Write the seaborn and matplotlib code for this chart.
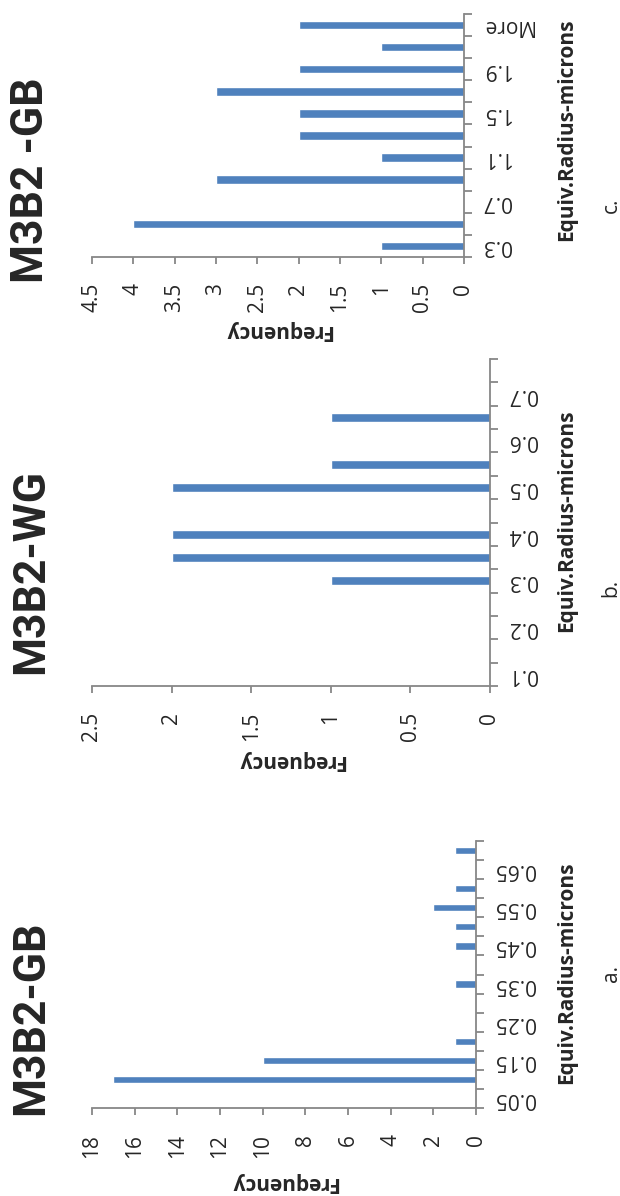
import matplotlib
matplotlib.use("Agg")
import matplotlib.pyplot as plt
import seaborn as sns
import pandas as pd
from matplotlib.ticker import MultipleLocator, FixedLocator, FuncFormatter

# Histogram bins (equivalent radius, microns) and their frequencies
a_bins = ["0.05", "0.1", "0.15", "0.2", "0.25", "0.3", "0.35", "0.4",
          "0.45", "0.5", "0.55", "0.6", "0.65", "More"]
a_counts = [0, 17, 10, 1, 0, 0, 1, 0, 1, 1, 2, 1, 0, 1]

b_bins = ["0.1", "0.15", "0.2", "0.25", "0.3", "0.35", "0.4", "0.45",
          "0.5", "0.55", "0.6", "0.65", "0.7", "More"]
b_counts = [0, 0, 0, 0, 1, 2, 2, 0, 2, 1, 0, 1, 0, 0]

c_bins = ["0.3", "0.5", "0.7", "0.9", "1.1", "1.3", "1.5", "1.7", "1.9",
          "2.1", "More"]
c_counts = [1, 4, 0, 3, 1, 2, 2, 3, 2, 1, 2]

titles = ["M3B2 -GB", "M3B2-WG", "M3B2-GB"]
tags = ["c.", "b.", "a."]
category_title = "Equiv.Radius-microns"
value_title = "Frequency"

sns.set_theme(style="white")
plt.rcParams["font.family"] = ["Open Sans", "DejaVu Sans"]

W, H = 620, 1196
fig = plt.figure(figsize=(W / 100, H / 100), dpi=100)


def fx(x):
    return x / W


def fy(y):
    return 1 - y / H


BLUE = "#4F81BD"
GRAY = "#878787"

panels = [
    dict(bins=c_bins, counts=c_counts, vmax=4.5, step=0.5,
         box=(92, 14, 464, 257), title=titles[0], title_bottom=283,
         tag=tags[0], tag_y=205, cat_title_y=130, val_title_y=331),
    dict(bins=b_bins, counts=b_counts, vmax=2.5, step=0.5,
         box=(92, 359, 490, 686), title=titles[1], title_bottom=674,
         tag=tags[1], tag_y=588, cat_title_y=521, val_title_y=760),
    dict(bins=a_bins, counts=a_counts, vmax=18, step=2,
         box=(92, 841, 476, 1108), title=titles[2], title_bottom=1115,
         tag=tags[2], tag_y=973, cat_title_y=973, val_title_y=1182),
]

for p in panels:
    left, top, right, bottom = p["box"]
    ax = fig.add_axes([fx(left), fy(bottom), (right - left) / W, (bottom - top) / H])
    df = pd.DataFrame({"bin": p["bins"], "count": p["counts"]})
    sns.barplot(data=df, x="count", y="bin", order=p["bins"], orient="h",
                color=BLUE, saturation=1, width=0.38, ax=ax)
    n = len(p["bins"])
    ax.set_ylim(-0.5, n - 0.5)
    ax.set_xlim(p["vmax"], 0)
    ax.set_xlabel("")
    ax.set_ylabel("")

    ax.xaxis.set_major_locator(MultipleLocator(p["step"]))
    ax.xaxis.set_major_formatter(FuncFormatter(lambda v, _: f"{v:g}"))
    ax.set_yticks(range(n))
    ax.set_yticklabels([b if i % 2 == 0 else "" for i, b in enumerate(p["bins"])])
    ax.yaxis.set_minor_locator(FixedLocator([i - 0.5 for i in range(n + 1)]))
    ax.yaxis.tick_right()

    ax.tick_params(axis="x", which="major", direction="out", length=5,
                   width=1.3, color=GRAY, pad=13.5, labelsize=15,
                   labelrotation=90, bottom=True, top=False)
    ax.tick_params(axis="y", which="major", length=0, pad=13, labelsize=15,
                   labelrotation=180, right=True, left=False)
    ax.tick_params(axis="y", which="minor", direction="out", length=5.8,
                   width=1.3, color=GRAY, right=True, left=False)
    for lab in ax.get_yticklabels():
        lab.set_va("center")
        lab.set_ha("left")

    for side in ("top", "left"):
        ax.spines[side].set_visible(False)
    for side in ("right", "bottom"):
        ax.spines[side].set_color(GRAY)
        ax.spines[side].set_linewidth(1.3)

    fig.text(fx(31), fy(p["title_bottom"]), p["title"], rotation=90,
             ha="center", va="bottom", fontsize=32, fontweight="bold",
             family=["Roboto", "DejaVu Sans"])
    fig.text(fx((left + right) / 2), fy(p["val_title_y"]), value_title,
             rotation=180, ha="center", va="center", fontsize=15,
             fontweight="bold")
    fig.text(fx(567), fy(p["cat_title_y"]), category_title, rotation=90,
             ha="center", va="center", fontsize=15, fontweight="bold")
    fig.text(fx(611), fy(p["tag_y"]), p["tag"], rotation=90,
             ha="center", va="center", fontsize=15)

fig.savefig("out.png", dpi=100, facecolor="white")
